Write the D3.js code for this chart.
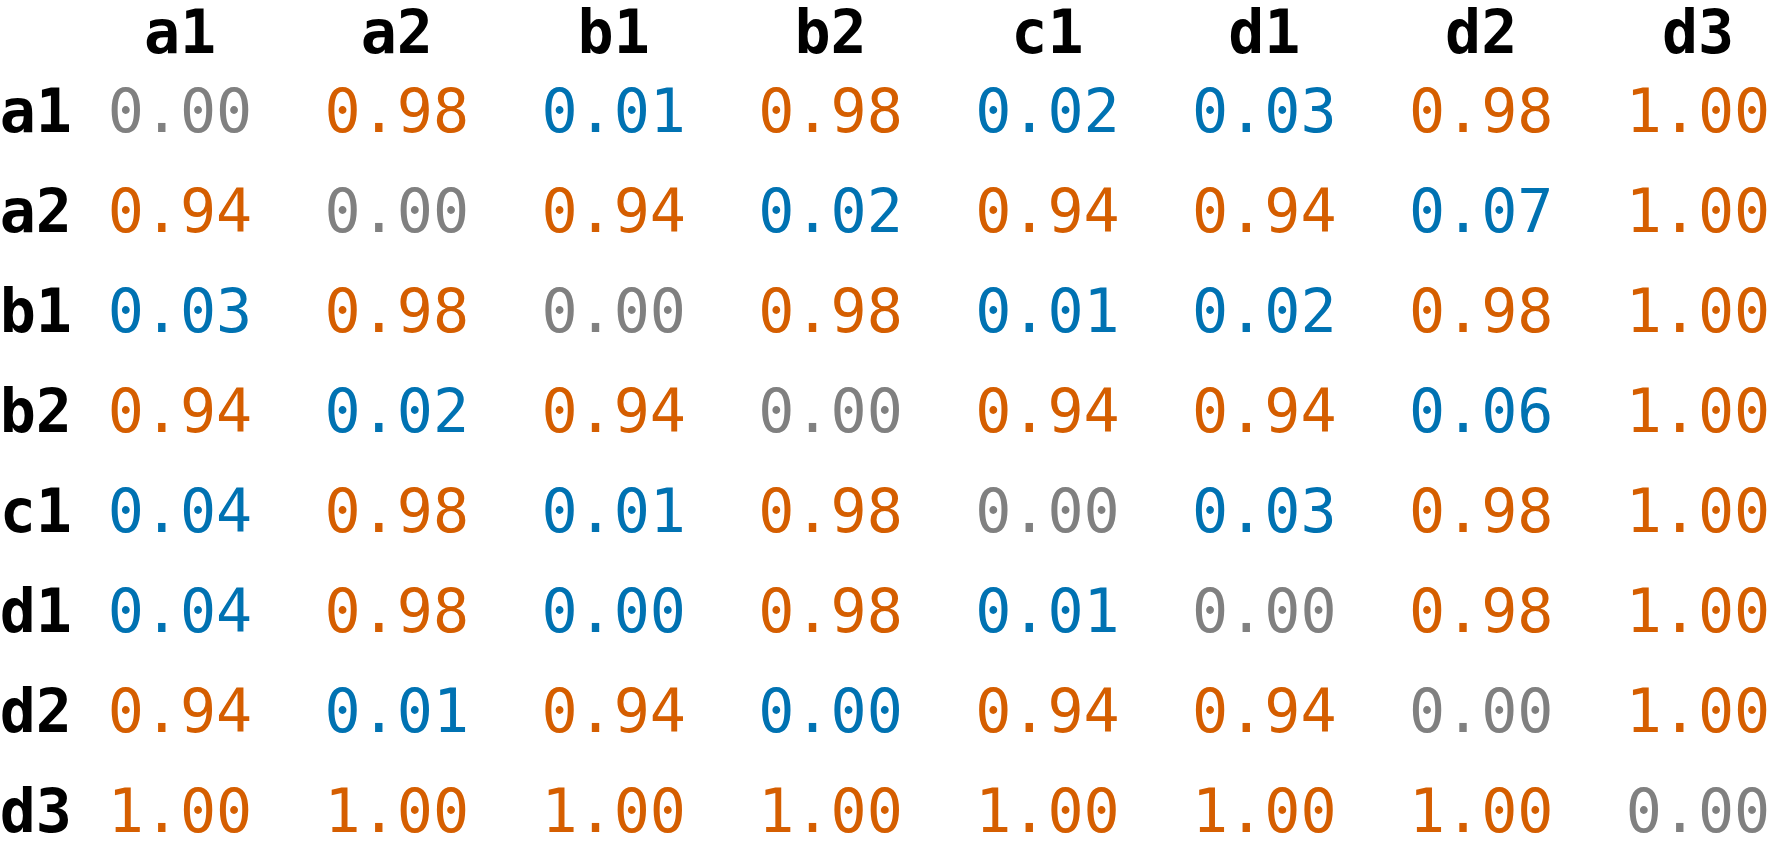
<!DOCTYPE html>
<html>
<head>
<meta charset="utf-8">
<script src="https://cdn.jsdelivr.net/npm/d3@7"></script>
<style>
  html, body { margin: 0; padding: 0; background: #ffffff; }
  svg { display: block; }
</style>
</head>
<body>
<svg id="chart" width="1771" height="856"></svg>
<script>
const columns = ["a1", "a2", "b1", "b2", "c1", "d1", "d2", "d3"];
const rows = ["a1", "a2", "b1", "b2", "c1", "d1", "d2", "d3"];
const rowA1 = [0.00, 0.98, 0.01, 0.98, 0.02, 0.03, 0.98, 1.00];
const rowA2 = [0.94, 0.00, 0.94, 0.02, 0.94, 0.94, 0.07, 1.00];
const rowB1 = [0.03, 0.98, 0.00, 0.98, 0.01, 0.02, 0.98, 1.00];
const rowB2 = [0.94, 0.02, 0.94, 0.00, 0.94, 0.94, 0.06, 1.00];
const rowC1 = [0.04, 0.98, 0.01, 0.98, 0.00, 0.03, 0.98, 1.00];
const rowD1 = [0.04, 0.98, 0.00, 0.98, 0.01, 0.00, 0.98, 1.00];
const rowD2 = [0.94, 0.01, 0.94, 0.00, 0.94, 0.94, 0.00, 1.00];
const rowD3 = [1.00, 1.00, 1.00, 1.00, 1.00, 1.00, 1.00, 0.00];
const matrix = [rowA1, rowA2, rowB1, rowB2, rowC1, rowD1, rowD2, rowD3];
const threshold = 0.5;

const svg = d3.select("#chart");
const x = d3.scalePoint().domain(columns).range([180, 1698]);
const y = d3.scalePoint().domain(rows).range([132, 832]);
const color = (v, i, j) => i === j ? "#808080" : (v > threshold ? "#D55E00" : "#0072B2");

const fontSize = 60;
const mono = "'DejaVu Sans Mono', monospace";

svg.append("g").selectAll("text").data(columns).join("text")
  .attr("x", d => x(d)).attr("y", 53)
  .attr("text-anchor", "middle")
  .attr("font-family", mono).attr("font-weight", "bold")
  .attr("font-size", fontSize).attr("fill", "#000")
  .text(d => d);

svg.append("g").selectAll("text").data(rows).join("text")
  .attr("x", 72).attr("y", d => y(d))
  .attr("text-anchor", "end")
  .attr("font-family", mono).attr("font-weight", "bold")
  .attr("font-size", fontSize).attr("fill", "#000")
  .text(d => d);

const cells = [];
matrix.forEach((r, i) => r.forEach((v, j) => cells.push({ r: rows[i], c: columns[j], v, i, j })));

svg.append("g").selectAll("text").data(cells).join("text")
  .attr("x", d => x(d.c)).attr("y", d => y(d.r))
  .attr("text-anchor", "middle")
  .attr("font-family", mono)
  .attr("font-size", fontSize)
  .attr("fill", d => color(d.v, d.i, d.j))
  .text(d => d3.format(".2f")(d.v));
</script>
</body>
</html>
